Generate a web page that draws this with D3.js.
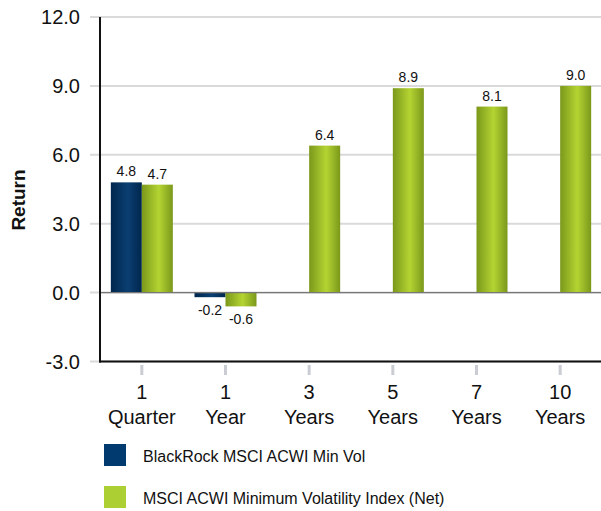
<!DOCTYPE html>
<html><head><meta charset="utf-8">
<script src="https://cdn.jsdelivr.net/npm/d3@7"></script>
<style>
html,body{margin:0;padding:0;background:#fff;}
svg{display:block;font-family:"Liberation Sans",Arial,sans-serif;}
</style></head>
<body><svg id="chart" width="601" height="511"></svg>
<script>
const categories = [["1","Quarter"],["1","Year"],["3","Years"],["5","Years"],["7","Years"],["10","Years"]];
const seriesNames = ["BlackRock MSCI ACWI Min Vol","MSCI ACWI Minimum Volatility Index (Net)"];
const fundValues = [4.8, -0.2, null, null, null, null];
const indexValues = [4.7, -0.6, 6.4, 8.9, 8.1, 9.0];
const yTicks = [-3, 0, 3, 6, 9, 12];

const fmt = v => d3.format(".1f")(v).replace("\u2212", "-");

const svg = d3.select("#chart");
const defs = svg.append("defs");
function grad(id, edge, mid){
  const g = defs.append("linearGradient").attr("id", id).attr("x1","0%").attr("x2","100%").attr("y1","0%").attr("y2","0%");
  g.append("stop").attr("offset","0%").attr("stop-color",edge);
  g.append("stop").attr("offset","55%").attr("stop-color",mid);
  g.append("stop").attr("offset","100%").attr("stop-color",edge);
}
grad("gBlue","#00264d","#0b3f72");
grad("gGreen","#7b981b","#b4d432");
const fills = ["url(#gBlue)","url(#gGreen)"];
const legendColors = ["#013a6e","#acd033"];

const x = d3.scaleBand().domain(d3.range(categories.length)).range([100, 602]).padding(0);
const x1 = d3.scaleBand().domain([0,1]).range([-31, 31]).padding(0);
const y = d3.scaleLinear().domain([-3, 12]).range([361.5, 17]);

// gridlines
svg.append("g").selectAll("line").data(yTicks).join("line")
  .attr("x1", 90).attr("x2", 601)
  .attr("y1", d => y(d)).attr("y2", d => y(d))
  .attr("stroke", "#dadada").attr("stroke-width", 2);

// y tick labels
svg.append("g").selectAll("text").data(yTicks).join("text")
  .attr("x", 80).attr("y", d => y(d)).attr("dy", "0.36em")
  .attr("text-anchor", "end").attr("font-size", 20).attr("fill", "#111")
  .text(d => fmt(d));

// bars
const data = [fundValues, indexValues];
data.forEach((vals, si) => {
  const g = svg.append("g");
  const pts = vals.map((v,i)=>({v,i})).filter(d => d.v !== null);
  g.selectAll("rect").data(pts).join("rect")
    .attr("x", d => x(d.i) + x.bandwidth()/2 + x1(si))
    .attr("width", x1.bandwidth())
    .attr("y", d => y(Math.max(0, d.v)))
    .attr("height", d => Math.abs(y(d.v) - y(0)))
    .attr("fill", fills[si]);
  g.selectAll("text").data(pts).join("text")
    .attr("x", d => x(d.i) + x.bandwidth()/2 + x1(si) + x1.bandwidth()/2)
    .attr("y", d => d.v >= 0 ? y(d.v) - 6 : y(d.v) + 18)
    .attr("text-anchor", "middle").attr("font-size", 14).attr("fill", "#111")
    .text(d => fmt(d.v));
});

// zero line
svg.append("line").attr("x1", 100).attr("x2", 601).attr("y1", y(0)).attr("y2", y(0))
  .attr("stroke", "#777").attr("stroke-width", 1.2);

// axes
svg.append("line").attr("x1", 100).attr("x2", 100).attr("y1", y(12)).attr("y2", y(-3)+1)
  .attr("stroke", "#111").attr("stroke-width", 2);
svg.append("line").attr("x1", 99).attr("x2", 601).attr("y1", y(-3)).attr("y2", y(-3))
  .attr("stroke", "#111").attr("stroke-width", 2);

// x ticks
svg.append("g").selectAll("line").data(d3.range(categories.length)).join("line")
  .attr("x1", d => x(d) + x.bandwidth()/2).attr("x2", d => x(d) + x.bandwidth()/2)
  .attr("y1", 365).attr("y2", 375).attr("stroke", "#c9ccd3").attr("stroke-width", 3);

// x labels
const xl = svg.append("g").selectAll("text").data(categories).join("text")
  .attr("text-anchor", "middle").attr("font-size", 20).attr("fill", "#111");
xl.append("tspan").attr("x", (d,i) => x(i) + x.bandwidth()/2).attr("y", 399).text(d => d[0]);
xl.append("tspan").attr("x", (d,i) => x(i) + x.bandwidth()/2).attr("y", 423.5).text(d => d[1]);

// y title
svg.append("text").attr("transform", "translate(25,200) rotate(-90)")
  .attr("text-anchor", "middle").attr("font-size", 19).attr("font-weight", "bold").attr("fill", "#111")
  .text("Return");

// legend
const lg = svg.append("g").selectAll("g").data(seriesNames).join("g")
  .attr("transform", (d,i) => `translate(104,${444 + i*42})`);
lg.append("rect").attr("width", 22).attr("height", 22).attr("fill", (d,i) => legendColors[i]);
lg.append("text").attr("x", 39).attr("y", 18).attr("font-size", 16).attr("fill", "#111").text(d => d);
</script></body></html>
